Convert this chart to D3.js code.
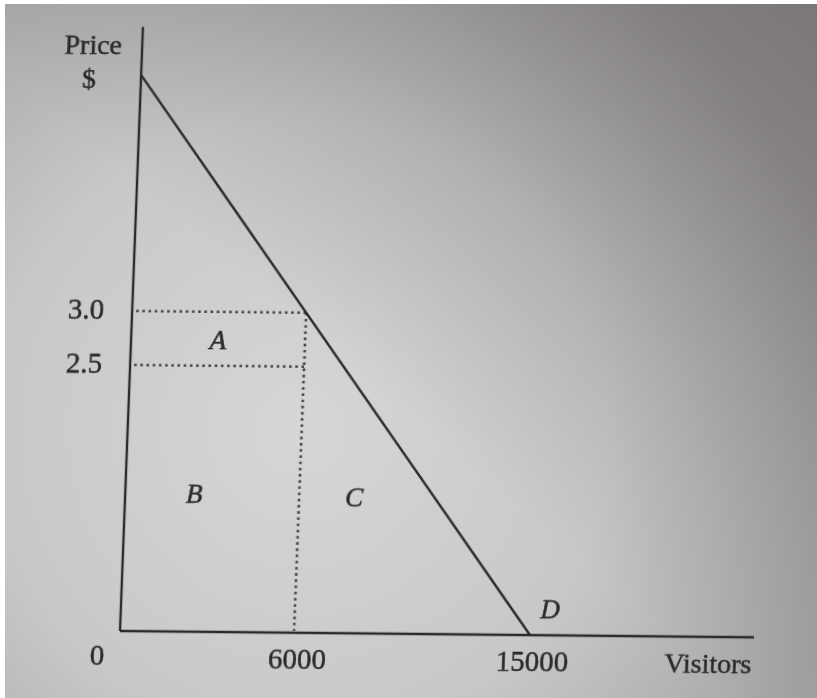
<!DOCTYPE html>
<html>
<head>
<meta charset="utf-8">
<script src="https://cdn.jsdelivr.net/npm/d3@7"></script>
<style>
  html, body { margin: 0; padding: 0; background: #ffffff; }
  svg { display: block; }
</style>
</head>
<body>
<div id="chart"></div>
<script>
// ---------- data ----------
const demandPoints = [ {q: 0, p: 5}, {q: 15000, p: 0} ];       // demand curve D
const refQuantity = 6000;                                       // visitors at the higher price
const priceLevels = [3.0, 2.5];                                 // dotted price levels
const priceTickLabels = ["3.0", "2.5"];
const quantityTicks = [0, 6000, 15000];
const quantityTickLabels = ["0", "6000", "15000"];
const areaLabels = ["A", "B", "C", "D"];
const areaLabelQ = [3000, 2380, 8100, 15700];
const areaLabelP = [2.74, 1.30, 1.28, 0.25];
const yAxisTitle = ["Price", "$"];
const xAxisTitle = "Visitors";

// ---------- layout ----------
const W = 817, H = 698;
const svg = d3.select("#chart").append("svg").attr("width", W).attr("height", H);
const defs = svg.append("defs");

// photo-like paper background
const rg = defs.append("radialGradient").attr("id", "paper")
  .attr("gradientUnits", "userSpaceOnUse").attr("cx", 300).attr("cy", 430).attr("r", 560);
[[0, "#d6d6d5"], [0.55, "#c9c8c8"], [1, "#a5a3a4"]].forEach(([o, c]) =>
  rg.append("stop").attr("offset", o).attr("stop-color", c));
const lg = defs.append("linearGradient").attr("id", "shade")
  .attr("x1", 1).attr("y1", 0).attr("x2", 0.45).attr("y2", 0.55);
lg.append("stop").attr("offset", 0).attr("stop-color", "#403a3b").attr("stop-opacity", 0.42);
lg.append("stop").attr("offset", 1).attr("stop-color", "#403a3b").attr("stop-opacity", 0);
const blur = defs.append("filter").attr("id", "soft");
blur.append("feGaussianBlur").attr("stdDeviation", 0.55);

svg.append("rect").attr("width", W).attr("height", H).attr("fill", "#ffffff");
svg.append("rect").attr("x", 5).attr("y", 4).attr("width", W - 5).attr("height", H - 4).attr("fill", "url(#paper)");
svg.append("rect").attr("x", 5).attr("y", 4).attr("width", W - 5).attr("height", H - 4).attr("fill", "url(#shade)");

// chart group: slightly sheared like the photographed page
const g = svg.append("g")
  .attr("transform", "matrix(1,0.01,-0.038,1,120,631)")
  .attr("filter", "url(#soft)");

// schematic (not-to-scale) piecewise scales
const x = d3.scaleLinear().domain([0, 6000, 15000, 23200]).range([0, 174, 410, 634]);
const y = d3.scaleLinear().domain([0, 2.5, 3.0, 5, 5.5]).range([0, -266, -320, -556, -604]);

const ink = "#2a2a2a";
const serif = "'Liberation Serif', 'Times New Roman', serif";

// axes
g.append("line").attr("x1", x(0)).attr("y1", y(0)).attr("x2", x(23200)).attr("y2", y(0))
  .attr("stroke", ink).attr("stroke-width", 2.6);
g.append("line").attr("x1", x(0)).attr("y1", y(0)).attr("x2", x(0)).attr("y2", y(5.5))
  .attr("stroke", ink).attr("stroke-width", 2.4);

// dotted guides
const dotted = {stroke: "#444444", "stroke-width": 2.6, "stroke-dasharray": "2.6,3.6"};
priceLevels.forEach(p => {
  const l = g.append("line").attr("x1", x(0) + 4).attr("y1", y(p)).attr("x2", x(refQuantity)).attr("y2", y(p));
  Object.entries(dotted).forEach(([k, v]) => l.attr(k, v));
});
const vl = g.append("line").attr("x1", x(refQuantity)).attr("y1", y(priceLevels[0]))
  .attr("x2", x(refQuantity)).attr("y2", y(0) - 2);
Object.entries(dotted).forEach(([k, v]) => vl.attr(k, v));

// demand line
g.append("path")
  .datum(demandPoints)
  .attr("d", d3.line().x(d => x(d.q)).y(d => y(d.p)))
  .attr("fill", "none").attr("stroke", ink).attr("stroke-width", 2.4);

function styleText(sel, size) {
  return sel.attr("font-family", serif).attr("font-size", size).attr("fill", ink)
    .attr("stroke", ink).attr("stroke-width", 0.45);
}

// price tick labels
styleText(g.selectAll("text.pt").data(priceLevels).enter().append("text")
  .attr("x", x(0) - 28).attr("y", d => y(d) + 8)
  .attr("text-anchor", "end"), 29)
  .text((d, i) => priceTickLabels[i]);

// quantity tick labels
const qOffsets = [-22, 4, 3];
styleText(g.selectAll("text.qt").data(quantityTicks).enter().append("text")
  .attr("x", (d, i) => x(d) + qOffsets[i]).attr("y", (d, i) => i === 0 ? 34 : 36)
  .attr("text-anchor", "middle"), 29)
  .text((d, i) => quantityTickLabels[i]);

// axis titles
styleText(g.append("text").attr("x", 589).attr("y", 36).attr("text-anchor", "middle"), 28).text(xAxisTitle);
styleText(g.append("text").attr("x", -49).attr("y", -577).attr("text-anchor", "middle"), 28).text(yAxisTitle[0]);
styleText(g.append("text").attr("x", -52).attr("y", -543).attr("text-anchor", "middle"), 28).text(yAxisTitle[1]);

// area labels
styleText(g.selectAll("text.al").data(areaLabels).enter().append("text")
  .attr("x", (d, i) => x(areaLabelQ[i])).attr("y", (d, i) => y(areaLabelP[i]))
  .attr("dy", "0.35em")
  .attr("text-anchor", "middle").attr("font-style", "italic"), 27)
  .text(d => d);
</script>
</body>
</html>
